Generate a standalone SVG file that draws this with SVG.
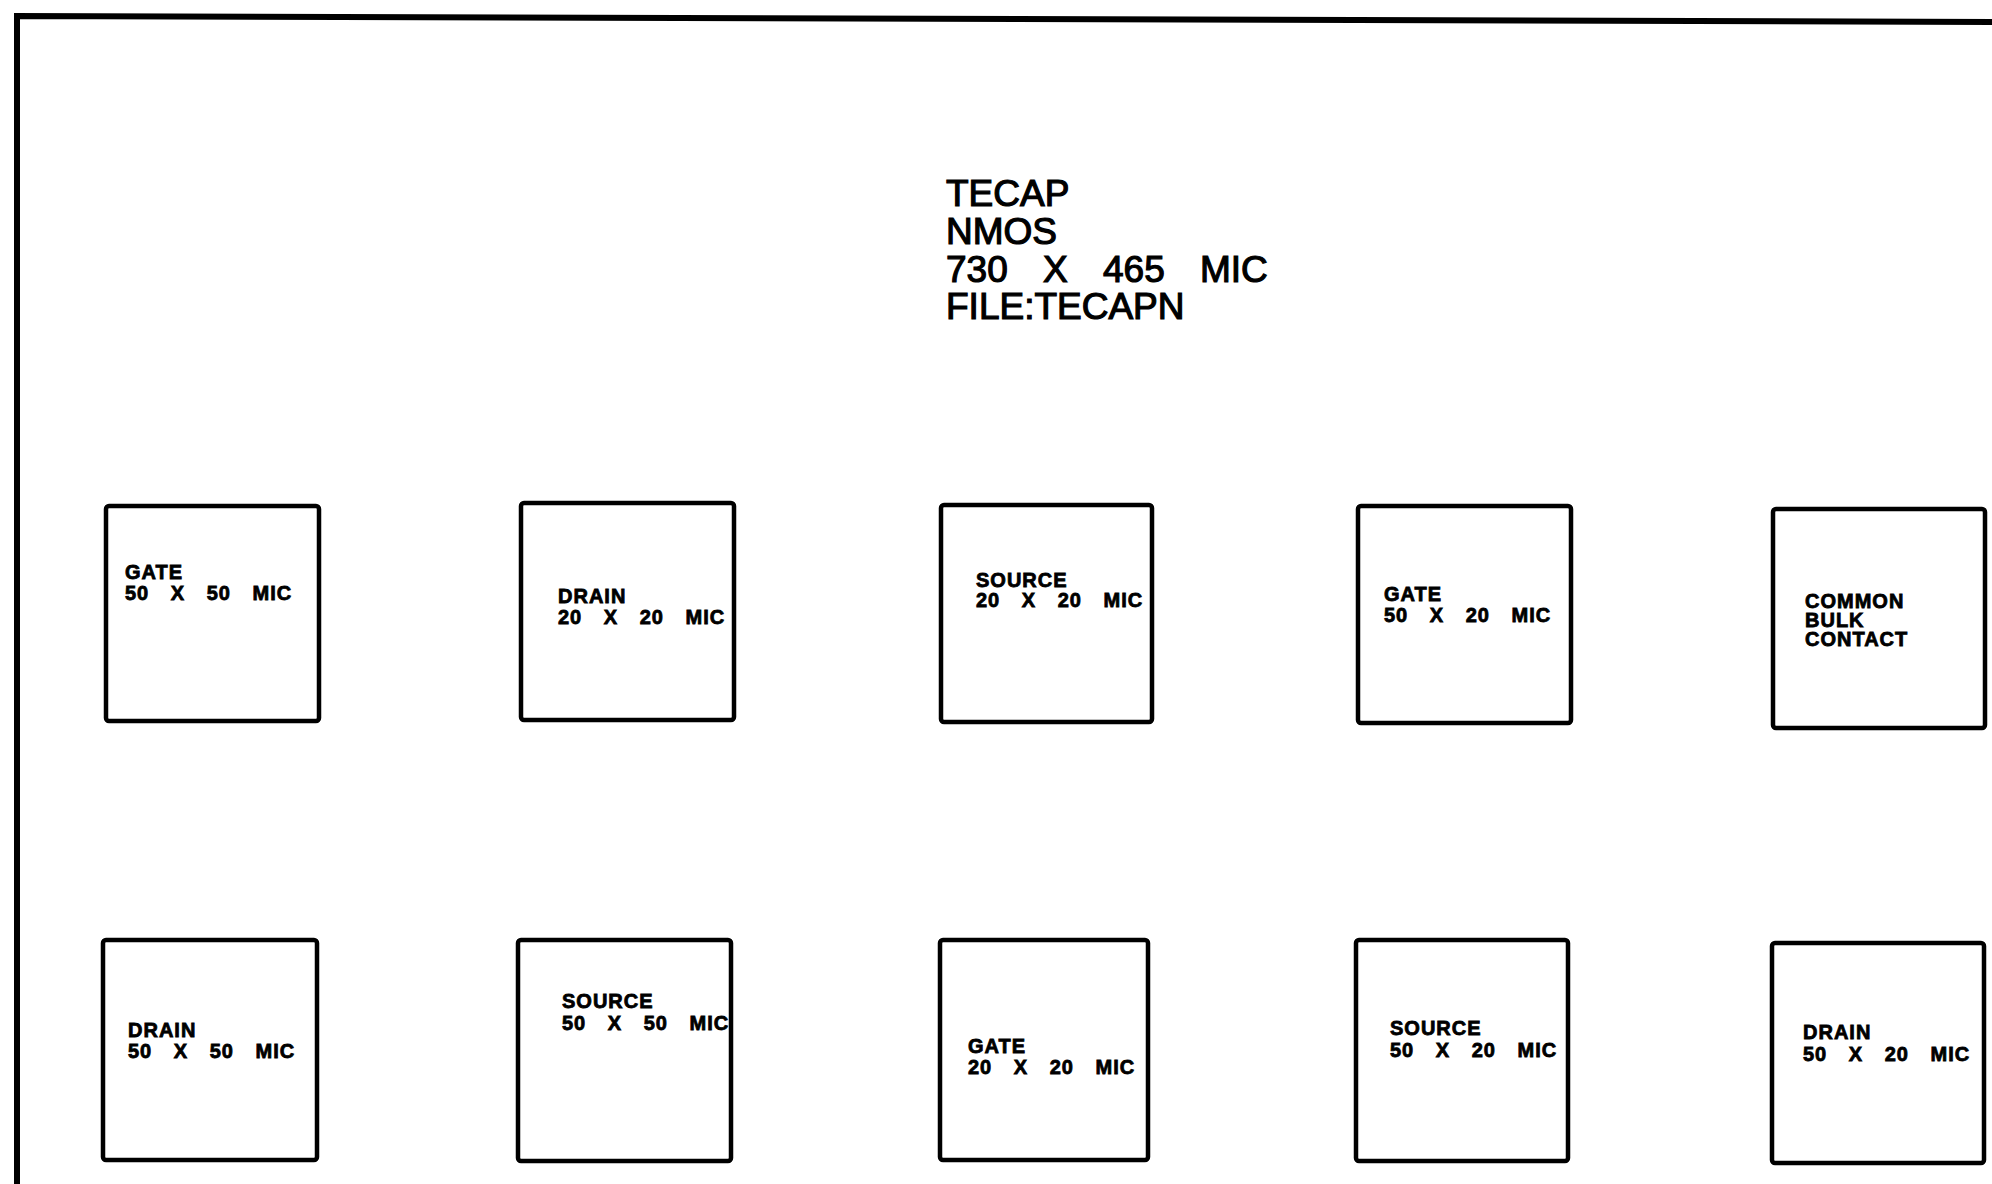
<svg xmlns="http://www.w3.org/2000/svg" width="1992" height="1184" viewBox="0 0 1992 1184">
  <style>
    .frame { fill: none; stroke: #000; stroke-width: 6; stroke-linecap: square; }
    .box { fill: none; stroke: #000; stroke-width: 4.5; }
    .lbl { font-family: "Liberation Sans", Arial, sans-serif; font-weight: bold; font-size: 20px; letter-spacing: 1px; fill: #000; stroke: #000; stroke-width: 0.8; }
    .dim { word-spacing: 15px; }
    .title { font-family: "Liberation Sans", Arial, sans-serif; font-size: 37px; fill: #000; stroke: #000; stroke-width: 1.2; }
    .tdim { word-spacing: 25px; }
  </style>
  <rect width="1992" height="1184" fill="#fff"/>
  <g id="frame">
    <path class="frame" d="M17,1184 L17,16 L1992,22"/>
  </g>
  <g id="title">
    <text class="title" x="946" y="206">TECAP</text>
    <text class="title" x="946" y="244">NMOS</text>
    <text class="title tdim" x="946" y="282">730 X 465 MIC</text>
    <text class="title" x="946" y="319">FILE:TECAPN</text>
  </g>
  <g id="connectors"></g>
  <g id="n1">
    <rect class="box" x="106" y="506" width="213" height="215" rx="3"/>
    <text class="lbl" x="125" y="579">GATE<tspan class="dim" x="125" dy="21">50 X 50 MIC</tspan></text>
  </g>
  <g id="n2">
    <rect class="box" x="521" y="503" width="213" height="217" rx="3"/>
    <text class="lbl" x="558" y="603">DRAIN<tspan class="dim" x="558" dy="21">20 X 20 MIC</tspan></text>
  </g>
  <g id="n3">
    <rect class="box" x="941" y="505" width="211" height="217" rx="3"/>
    <text class="lbl" x="976" y="587">SOURCE<tspan class="dim" x="976" dy="20">20 X 20 MIC</tspan></text>
  </g>
  <g id="n4">
    <rect class="box" x="1358" y="506" width="213" height="217" rx="3"/>
    <text class="lbl" x="1384" y="601">GATE<tspan class="dim" x="1384" dy="21">50 X 20 MIC</tspan></text>
  </g>
  <g id="n5">
    <rect class="box" x="1773" y="509" width="212" height="219" rx="3"/>
    <text class="lbl" x="1805" y="608">COMMON<tspan x="1805" dy="19">BULK</tspan><tspan x="1805" dy="19">CONTACT</tspan></text>
  </g>
  <g id="n6">
    <rect class="box" x="103" y="940" width="214" height="220" rx="3"/>
    <text class="lbl" x="128" y="1037">DRAIN<tspan class="dim" x="128" dy="21">50 X 50 MIC</tspan></text>
  </g>
  <g id="n7">
    <rect class="box" x="518" y="940" width="213" height="221" rx="3"/>
    <text class="lbl" x="562" y="1008">SOURCE<tspan class="dim" x="562" dy="22">50 X 50 MIC</tspan></text>
  </g>
  <g id="n8">
    <rect class="box" x="940" y="940" width="208" height="220" rx="3"/>
    <text class="lbl" x="968" y="1053">GATE<tspan class="dim" x="968" dy="21">20 X 20 MIC</tspan></text>
  </g>
  <g id="n9">
    <rect class="box" x="1356" y="940" width="212" height="221" rx="3"/>
    <text class="lbl" x="1390" y="1035">SOURCE<tspan class="dim" x="1390" dy="22">50 X 20 MIC</tspan></text>
  </g>
  <g id="n10">
    <rect class="box" x="1772" y="943" width="212" height="220" rx="3"/>
    <text class="lbl" x="1803" y="1039">DRAIN<tspan class="dim" x="1803" dy="22">50 X 20 MIC</tspan></text>
  </g>
</svg>
